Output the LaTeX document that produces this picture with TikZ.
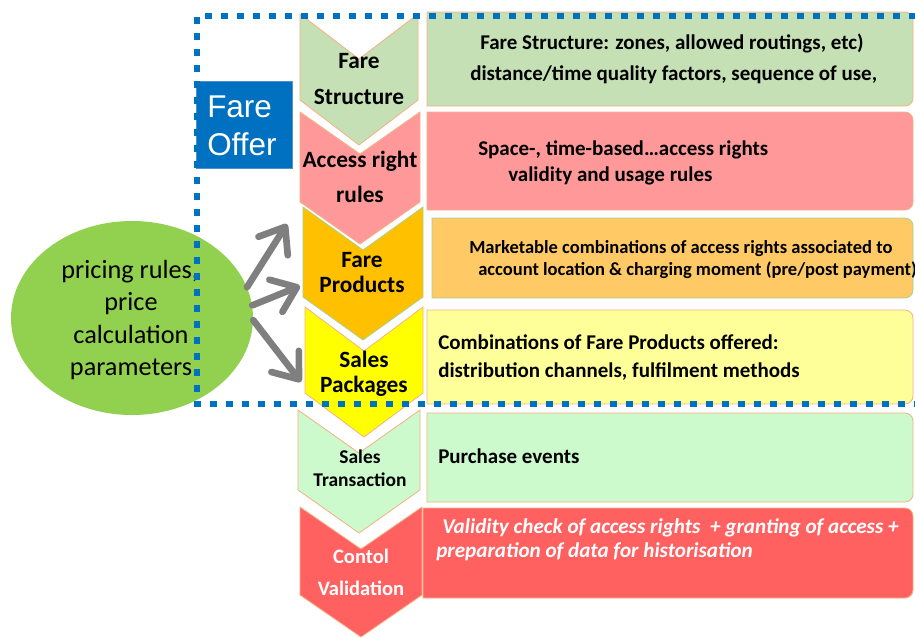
\documentclass[tikz,border=0pt]{standalone}
\usepackage{fontspec}
\setmainfont{Carlito}
\newfontfamily\arialf{Liberation Sans}
\usetikzlibrary{arrows.meta,shapes.geometric}
\definecolor{fsgreen}{HTML}{C5E0B4}
\definecolor{arpink}{HTML}{FF9999}
\definecolor{fporange}{HTML}{FFC000}
\definecolor{spyellow}{HTML}{FFFF00}
\definecolor{stgreen}{HTML}{CCFACC}
\definecolor{cvred}{HTML}{FF6161}
\definecolor{boxorange}{HTML}{FFC966}
\definecolor{boxyellow}{HTML}{FFFF99}
\definecolor{lineorange}{HTML}{F4B183}
\definecolor{linegreen}{HTML}{A9D18E}
\definecolor{ellgreen}{HTML}{92D050}
\definecolor{offerblue}{HTML}{0070C0}
\definecolor{offerline}{HTML}{4F8FD6}
\definecolor{arrowgray}{HTML}{7F7F7F}
\newcommand\mychev[7]{%
  \filldraw[fill=#6,draw=#7,line width=0.6pt] (#1,#3) -- ({(#1+#2)/2},{#3+#5}) -- (#2,#3) -- (#2,{#3+#4}) -- ({(#1+#2)/2},{#3+#4+#5}) -- (#1,{#3+#4}) -- cycle;}
\newcommand\mybox[6]{%
  \filldraw[fill=#5,draw=#6,line width=0.6pt] (#1,#2) -- ({#3-8},#2) arc[start angle=-90,end angle=0,radius=8] -- (#3,{#4-8}) arc[start angle=0,end angle=90,radius=8] -- (#1,#4) -- cycle;}
\begin{document}
\begin{tikzpicture}[x=0.75pt,y=-0.75pt,
  cht/.style={anchor=base,inner sep=0pt,font=\bfseries\fontsize{17.5}{20}\selectfont},
  bxt/.style={anchor=base west,inner sep=0pt,font=\bfseries\fontsize{15.75}{19}\selectfont},
  smt/.style={anchor=base west,inner sep=0pt,font=\bfseries\fontsize{13.9}{17}\selectfont},
  itt/.style={anchor=base west,inner sep=0pt,text=white,font=\bfseries\itshape\fontsize{15.85}{18}\selectfont},
  elt/.style={anchor=base,inner sep=0pt,font=\fontsize{19.7}{23}\selectfont},
  oft/.style={anchor=base west,inner sep=0pt,text=white,font=\arialf\fontsize{23.6}{28}\selectfont},
  garrow/.style={draw=arrowgray,line width=5pt,line cap=round,-{Straight Barb[length=17pt,width=26pt,round]}},
  offerdash/.style={draw=offerblue,line width=5pt,dash pattern=on 5.5pt off 6.5pt}]
\useasboundingbox (0,0) rectangle (915,637);
\fill[white] (0,0) rectangle (915,637);
% right boxes
\mybox{427}{12}{913}{106}{fsgreen}{lineorange}
\mybox{427}{112}{913}{210}{arpink}{lineorange}
\mybox{432}{218}{913}{298}{boxorange}{linegreen}
\mybox{427}{310}{913}{404}{boxyellow}{lineorange}
\mybox{427}{413}{913}{502}{stgreen}{lineorange}
\mybox{423}{508}{913}{598}{cvred}{lineorange}
% chevrons
\mychev{300}{418}{14}{86}{45}{fsgreen}{lineorange}
\mychev{300}{420}{112}{90}{42}{arpink}{lineorange}
\mychev{303}{423}{207}{90}{43}{fporange}{linegreen}
\mychev{305}{423}{307}{86}{44}{spyellow}{lineorange}
\mychev{298}{420}{410}{80}{43}{stgreen}{lineorange}
\mychev{300}{422}{507}{88}{42}{cvred}{lineorange}
% chevron texts
\node[cht] (c1a) at (359,68) {Fare};
\node[cht] (c1b) at (359,104) {Structure};
\node[cht] (c2a) at (360,167) {Access right};
\node[cht] (c2b) at (360,202) {rules};
\node[cht] (c3a) at (362,267) {Fare};
\node[cht] (c3b) at (362,292) {Products};
\node[cht] (c4a) at (364,367) {Sales};
\node[cht] (c4b) at (364,392) {Packages};
\node[cht,font=\bfseries\fontsize{14.6}{17}\selectfont] (c5a) at (360,463) {Sales};
\node[cht,font=\bfseries\fontsize{14.6}{17}\selectfont] (c5b) at (360,486) {Transaction};
\node[cht,text=white,font=\bfseries\fontsize{15.4}{18}\selectfont] (c6a) at (361,563) {Contol};
\node[cht,text=white,font=\bfseries\fontsize{15.4}{18}\selectfont] (c6b) at (361,595) {Validation};
% box texts
\node[bxt] (t1a) at (480,49) {Fare Structure: zones, allowed routings, etc)};
\node[bxt] (t1b) at (470,80) {distance/time quality factors, sequence of use,};
\node[bxt] (t2a) at (478,155) {Space-, time-based…access rights};
\node[bxt] (t2b) at (508,181) {validity and usage rules};
\node[smt] (t3a) at (469,253) {Marketable combinations of access rights associated to};
\node[smt] (t3b) at (478,275) {account location \& charging moment (pre/post payment)};
\node[bxt] (t4a) at (438,349) {Combinations of Fare Products offered:};
\node[bxt] (t4b) at (438,377) {distribution channels, fulfilment methods};
\node[bxt] (t5) at (438,463) {Purchase events};
\node[itt] (t6a) at (442,533) {Validity check of access rights\ \ + granting of access +};
\node[itt] (t6b) at (436,557) {preparation of data for historisation};
% ellipse
\node[ellipse,fill=ellgreen,minimum width=181.5pt,minimum height=145.5pt,inner sep=0pt] (ell) at (132,318) {};
\node[elt] (e1) at (130,278) {pricing rules,};
\node[elt] (e2) at (131,310) {price};
\node[elt] (e3) at (131,343) {calculation};
\node[elt] (e4) at (131,375) {parameters};
% fare offer
\node[fill=offerblue,draw=offerline,line width=0.8pt,minimum width=72pt,minimum height=65pt,anchor=north west,inner sep=0pt] (fo) at (196,81) {};
\node[oft] (fo1) at (207,117) {Fare};
\node[oft] (fo2) at (207,155) {Offer};
% arrows
\coordinate (a1e) at (287,224);
\coordinate (a2e) at (300,286);
\coordinate (a3e) at (301,382);
\draw[garrow] (ell.15) -- (a1e);
\draw[garrow] (ell.6) -- (a2e);
\draw[garrow] (ell.-1) -- (a3e);
% dashed frame
\coordinate (fr1) at (916,16);
\coordinate (fr2) at (197,16);
\coordinate (fr3) at (197,404);
\coordinate (fr4) at (916,404);
\draw[offerdash] (fr1) -- (fr2) -- (fr3) -- (fr4);
\end{tikzpicture}
\end{document}
